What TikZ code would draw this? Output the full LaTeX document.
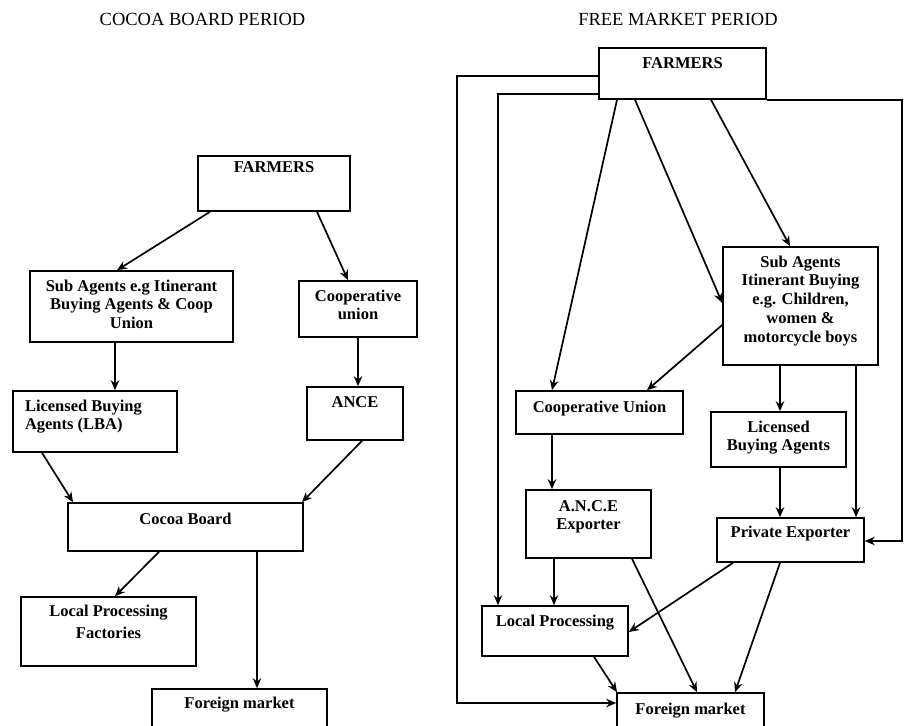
\documentclass[tikz,border=0pt]{standalone}
\usepackage{fontspec}
\setmainfont{Liberation Serif}
\usetikzlibrary{arrows.meta}
\newcommand{\bt}[4]{\parbox[c][#2pt][t]{#1pt}{\centering\vspace*{#3pt}\strut #4}}
\newcommand{\btl}[4]{\parbox[c][#2pt][t]{#1pt}{\raggedright\leftskip=12pt\vspace*{#3pt}\strut #4}}
\begin{document}
\begin{tikzpicture}[x=1pt,y=-1pt,
 box/.style={draw,line width=1.6pt,inner sep=0pt,font={\fontsize{16.5}{18.8}\selectfont\bfseries}},
 arr/.style={line width=1.7pt,-{Stealth[length=10pt,width=8.5pt]}},
 ttl/.style={font={\fontsize{18.5}{22}\selectfont},anchor=base,inner sep=0pt}]
\useasboundingbox (0,0) rectangle (904,725);
\clip (0,0) rectangle (904,725);

% titles
\node[ttl] (t1) at (202.5,26) {COCOA BOARD PERIOD};
\node[ttl] (t2) at (678,26) {FREE MARKET PERIOD};

% left diagram
\node[box] (farmL) at (274,183.5) {\bt{152}{55}{3}{FARMERS}};
\node[box] (subL) at (131.5,306.5) {\bt{203}{71}{7}{Sub Agents e.g Itinerant\\Buying Agents \& Coop\\Union}};
\node[box] (coopL) at (358,309) {\bt{118}{56}{7}{Cooperative\\union}};
\node[box] (lbaL) at (95,421.5) {\btl{164}{61}{7}{Licensed Buying\\Agents (LBA)}};
\node[box] (anceL) at (355,413.5) {\bt{96}{53}{7}{ANCE}};
\node[box] (cbL) at (185.5,527) {\bt{235}{48}{8}{Cocoa Board}};
\node[box] (lpL) at (108.5,631.5) {\bt{175}{69}{6}{Local Processing\\[4pt]Factories}};
\node[box] (fmL) at (239.5,719) {\bt{175}{60}{6}{Foreign market}};

\draw[arr] ([xshift=-64pt]farmL.south) -- ([xshift=-14.5pt]subL.north);
\draw[arr] ([xshift=43pt]farmL.south) -- ([xshift=-10pt]coopL.north);
\draw[arr] ([xshift=-16.5pt]subL.south) -- ([xshift=20pt]lbaL.north);
\draw[arr] (coopL.south) -- ([xshift=3pt]anceL.north);
\draw[arr] ([xshift=-53pt]lbaL.south) -- ([xshift=-112.5pt]cbL.north);
\draw[arr] ([xshift=7pt]anceL.south) -- ([xshift=116.5pt]cbL.north);
\draw[arr] ([xshift=-26.5pt]cbL.south) -- ([xshift=6.5pt]lpL.north);
\draw[arr] ([xshift=71.5pt]cbL.south) -- ([xshift=17.5pt]fmL.north);

% right diagram
\node[box] (farmR) at (682.5,73.5) {\bt{167}{51}{7}{FARMERS}};
\node[box] (subR) at (800.5,306) {\bt{155}{118}{7}{Sub Agents\\Itinerant Buying\\e.g. Children,\\women \&\\motorcycle boys}};
\node[box] (coopR) at (599.5,412.5) {\bt{167}{43}{8}{Cooperative Union}};
\node[box] (lbaR) at (778.5,439.5) {\bt{135}{55}{7}{Licensed\\Buying Agents}};
\node[box] (anceR) at (588.5,524) {\bt{125}{68}{8}{A.N.C.E\\Exporter}};
\node[box] (peR) at (790.5,540) {\bt{147}{44}{6}{Private Exporter}};
\node[box] (lpR) at (555,631) {\bt{146}{50}{7}{Local Processing}};
\node[box] (fmR) at (690.5,721.5) {\bt{147}{57}{8}{Foreign market}};

\coordinate (k1) at (457,703);
\coordinate (k2) at (902,541);
\draw[arr] ([yshift=-2.5pt]farmR.west) -| (k1) -- (k1 -| fmR.west);
\draw[arr] ([yshift=-20.5pt]farmR.west) -| ([xshift=-57pt]lpR.north);
\draw[arr] (farmR.south east) -| (k2) -- (k2 -| peR.east);
\draw[arr] ([xshift=-65.5pt]farmR.south) -- ([xshift=-47.5pt]coopR.north);
\draw[arr] ([xshift=-47.5pt]farmR.south) -- ([yshift=3pt]subR.west);
\draw[arr] ([xshift=28.5pt]farmR.south) -- ([xshift=-10.5pt]subR.north);
\draw[arr] ([yshift=-19pt]subR.west) -- ([xshift=47.5pt]coopR.north);
\draw[arr] ([xshift=-20.5pt]subR.south) -- ([xshift=1.5pt]lbaR.north);
\draw[arr] ([xshift=55.5pt]subR.south) -- ([xshift=65.5pt]peR.north);
\draw[arr] ([xshift=1.5pt]lbaR.south) -- ([xshift=-10.5pt]peR.north);
\draw[arr] ([xshift=-47.5pt]coopR.south) -- ([xshift=-36.5pt]anceR.north);
\draw[arr] ([xshift=-34.5pt]anceR.south) -- ([xshift=-1pt]lpR.north);
\draw[arr] ([xshift=43.5pt]anceR.south) -- ([xshift=6.5pt]fmR.north);
\draw[arr] ([xshift=-57.5pt]peR.south) -- ([yshift=-1pt]lpR.east);
\draw[arr] ([xshift=-10.5pt]peR.south) -- ([xshift=44.5pt]fmR.north);
\draw[arr] ([xshift=39pt]lpR.south) -- ([xshift=-73.5pt]fmR.north);
\end{tikzpicture}
\end{document}
